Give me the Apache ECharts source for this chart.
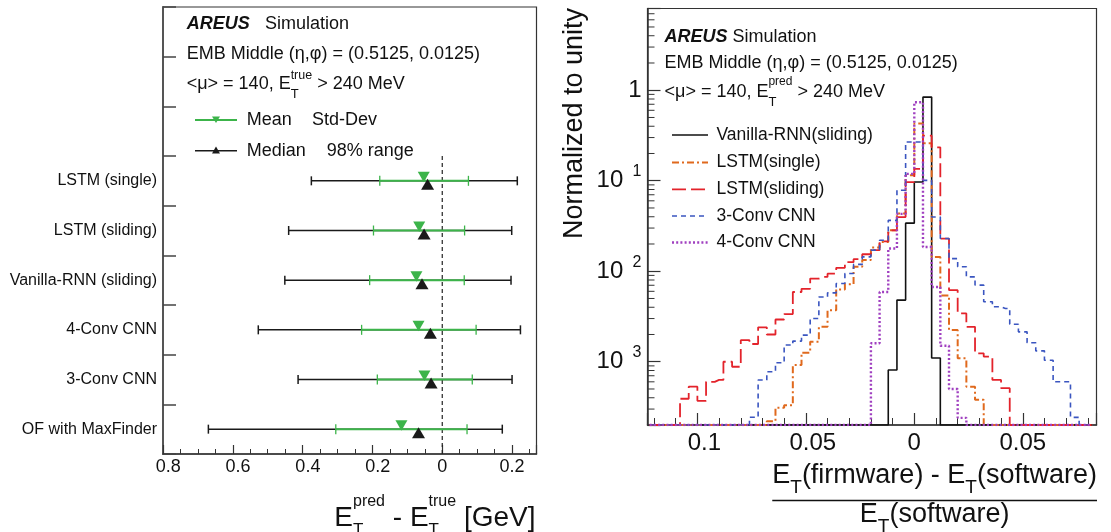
<!DOCTYPE html>
<html><head><meta charset="utf-8">
<script src="https://cdn.jsdelivr.net/npm/echarts@6/dist/echarts.min.js"></script>
<style>html,body{margin:0;padding:0;background:#fff;}#c{width:1111px;height:532px;}</style>
</head><body><div id="c"></div>
<script>
// ---------------- Left panel data: E_T^pred - E_T^true [GeV] ----------------
const models      = ['LSTM (single)', 'LSTM (sliding)', 'Vanilla-RNN (sliding)', '4-Conv CNN', '3-Conv CNN', 'OF with MaxFinder'];
const range98Low  = [-0.375, -0.440, -0.451, -0.527, -0.413, -0.670];
const range98High = [ 0.215,  0.199,  0.197,  0.224,  0.200,  0.172];
const stdLow      = [-0.179, -0.197, -0.208, -0.231, -0.186, -0.305];
const stdHigh     = [ 0.075,  0.064,  0.063,  0.097,  0.086,  0.071];
const meanVals    = [-0.053, -0.066, -0.074, -0.068, -0.051, -0.117];
const medianVals  = [-0.042, -0.052, -0.058, -0.034, -0.032, -0.068];
const leftTickValues = [-0.8, -0.6, -0.4, -0.2, 0, 0.2];
const leftTickLabels = ['0.8', '0.6', '0.4', '0.2', '0', '0.2'];

// ---------------- Right panel data: histograms (normalized to unity) ----------------
const binLowEdges = [-0.124,-0.120,-0.116,-0.112,-0.108,-0.104,-0.100,-0.096,-0.092,-0.088,
  -0.084,-0.080,-0.076,-0.072,-0.068,-0.064,-0.060,-0.056,-0.052,-0.048,
  -0.044,-0.040,-0.036,-0.032,-0.028,-0.024,-0.020,-0.016,-0.012,-0.008,
  -0.004,0.000,0.004,0.008,0.012,0.016,0.020,0.024,0.028,0.032,
  0.036,0.040,0.044,0.048,0.052,0.056,0.060,0.064,0.068,0.072,0.076,0.080];
const binWidth = 0.004;
const hVanillaRNN = [0,0,0,0,0,0,0,0,0,0, 0,0,0,0,0,0,0,0,0,0, 0,0,0,0,0,0,0,0,8.1e-4,4.8e-3,
  3.4e-2,9.7e-2,0.84,1.1e-3,0,0,0,0,0,0, 0,0,0,0,0,0,0,0,0,0,0,0];
const hLSTMsingle = [0,0,0,0,0,0,0,0,0,0, 0,0,0,0,2.2e-4,3.1e-4,3.3e-4,9.2e-4,1.26e-3,1.66e-3,
  2.43e-3,3.7e-3,6.3e-3,7.2e-3,1.12e-2,1.33e-2,1.83e-2,2.1e-2,2.84e-2,4.35e-2,
  0.115,0.428,0.26,1.44e-2,5.4e-3,2.24e-3,1.09e-3,5.3e-4,3.8e-4,0, 0,0,0,0,0,0,0,0,0,0,0,0];
const hLSTMsliding = [0,0,0,0,3.9e-4,5.3e-4,3.7e-4,6.0e-4,6.3e-4,1.0e-3,
  8.8e-4,1.73e-3,1.57e-3,2.4e-3,2.0e-3,2.93e-3,3.36e-3,5.9e-3,6.4e-3,8.3e-3,
  8.65e-3,9.4e-3,1.09e-2,1.26e-2,1.36e-2,1.54e-2,1.71e-2,2.14e-2,2.83e-2,3.97e-2,
  9.66e-2,0.1355,0.315,0.234,2.29e-2,6.18e-3,3.42e-3,2.43e-3,1.24e-3,1.14e-3,
  6.3e-4,5.1e-4,0,0,0,0,0,0,0,0,0,0];
const h3ConvCNN = [0,0,0,0,0,0,0,0,0,0, 0,0,2.44e-4,6.28e-4,7.76e-4,9.75e-4,1.53e-3,1.69e-3,1.97e-3,3.0e-3,
  5.2e-3,5.77e-3,7.32e-3,9.43e-3,1.19e-2,1.44e-2,1.71e-2,2.2e-2,3.65e-2,7.85e-2,
  0.268,0.268,0.101,3.98e-2,2.3e-2,1.38e-2,1.12e-2,8.67e-3,7.03e-3,4.6e-3,
  4.05e-3,3.88e-3,2.6e-3,2.14e-3,1.62e-3,1.32e-3,1.04e-3,6.0e-4,6.0e-4,2.43e-4,0,0];
const h4ConvCNN = [0,0,0,0,0,0,0,0,0,0, 0,0,0,0,0,0,0,0,0,0, 0,0,0,0,0,0,1.6e-3,5.9e-3,1.78e-2,4.3e-2,
  0.119,0.736,1.85e-2,6.7e-3,1.5e-3,5.0e-4,2.4e-4,0,0,0, 0,0,0,0,0,0,0,0,0,0,0,0];
const rightTickValues = [-0.1, -0.05, 0, 0.05];
const rightTickLabels = ['0.1', '0.05', '0', '0.05'];
const yTickValues = [1, 0.1, 0.01, 0.001];
const yTickBase   = ['1', '10', '10', '10'];
const yTickExp    = ['', '1', '2', '3'];

// ---------------- helpers ----------------
const FONT = '"Liberation Sans", Arial, Helvetica, sans-serif';
const mctx = document.createElement('canvas').getContext('2d');
function tw(s, size, weight, style) {
  mctx.font = (style || 'normal') + ' ' + (weight || 'normal') + ' ' + size + 'px "Liberation Sans"';
  return mctx.measureText(s).width;
}
function txt(x, y, s, size, o) {
  o = o || {};
  const al = o.align || 'left', va = o.va || 'middle';
  return { type: 'text', x: x, y: y, rotation: o.rotation || 0, silent: true, z: 10,
    style: { text: s, fontSize: size, fontFamily: FONT, fontWeight: o.weight || 'normal',
      fontStyle: o.style || 'normal', fill: o.fill || '#111',
      align: al, verticalAlign: va, textAlign: al, textVerticalAlign: va } };
}
function seq(parts, x, y, anchor) {
  const widths = parts.map(p => p.stack ? Math.max.apply(null, p.stack.map(q => tw(q.t, q.size)))
                                        : tw(p.t, p.size, p.weight, p.style));
  const total = widths.reduce((a, b) => a + b, 0);
  const x0 = anchor === 'right' ? x - total : anchor === 'center' ? x - total / 2 : x;
  let cx = x0; const els = [];
  parts.forEach((p, i) => {
    if (p.stack) p.stack.forEach(q => els.push(txt(cx, y + q.dy, q.t, q.size)));
    else els.push(txt(cx, y + (p.dy || 0), p.t, p.size, { weight: p.weight, style: p.style }));
    cx += widths[i];
  });
  return { els: els, x0: x0, total: total };
}
function gline(x1, y1, x2, y2, color, w, dash) {
  return { type: 'line', silent: true, z: 10, shape: { x1: x1, y1: y1, x2: x2, y2: y2 },
    style: { stroke: color, lineWidth: w, lineDash: dash || null } };
}
function gpoly(pts, color) {
  return { type: 'polygon', silent: true, z: 11, shape: { points: pts }, style: { fill: color } };
}

const GREEN = '#3cb44a', BLACK = '#1a1a1a', AX = '#333';
const EMPTY_SLOTS = 3;
const catNames = ['_a', '_b', '_c'].concat(models);
const X1_MIN = -0.8, X1_MAX = 0.27;
const X2_MIN = -0.123, X2_MAX = 0.084;
const Y_MIN = 2e-4, Y_MAX = 8;

const hists = [
  { name: 'Vanilla-RNN(sliding)', vals: hVanillaRNN, color: '#111111', w: 1.6, dash: 'solid' },
  { name: 'LSTM(single)', vals: hLSTMsingle, color: '#e0691d', w: 2, dash: [7, 3, 2, 3] },
  { name: 'LSTM(sliding)', vals: hLSTMsliding, color: '#e3232b', w: 1.8, dash: [14, 5] },
  { name: '3-Conv CNN', vals: h3ConvCNN, color: '#3a55c0', w: 1.6, dash: [5, 4] },
  { name: '4-Conv CNN', vals: h4ConvCNN, color: '#a040c0', w: 2.4, dash: [2, 2.2] }
];

const logMinorTicks = [];
for (let e = -4; e <= 0; e++) for (let k = 2; k <= 9; k++) {
  const v = k * Math.pow(10, e);
  if (v > Y_MIN * 1.001 && v < Y_MAX * 0.999) logMinorTicks.push([X2_MIN, v]);
}

// ---------------- graphics: texts, legends, titles ----------------
const graphics = [];
// left panel header
graphics.push(txt(186.7, 24.5, 'AREUS', 18, { weight: 'bold', style: 'italic' }));
graphics.push(txt(265, 24.5, 'Simulation', 18));
graphics.push(txt(186.7, 54, 'EMB Middle (η,φ) = (0.5125, 0.0125)', 18));
graphics.push.apply(graphics, seq([{ t: '<μ> = 140, E', size: 18 },
  { stack: [{ t: 'true', size: 12.5, dy: -8 }, { t: 'T', size: 13, dy: 10 }] },
  { t: ' > 240 MeV', size: 18 }], 186.7, 84, 'left').els);
// left legend
graphics.push(gline(195, 120, 237, 120, GREEN, 2));
graphics.push(gpoly([[212, 116.5], [220, 116.5], [216, 123]], GREEN));
graphics.push(txt(246.7, 120, 'Mean', 18));
graphics.push(txt(312, 120, 'Std-Dev', 18));
graphics.push(gline(195, 150.7, 237, 150.7, BLACK, 1.5));
graphics.push(gpoly([[216, 146.5], [212, 153.5], [220, 153.5]], BLACK));
graphics.push(txt(246.7, 150.7, 'Median', 18));
graphics.push(txt(326.7, 150.7, '98% range', 18));
// left x title
graphics.push.apply(graphics, seq([{ t: 'E', size: 28 },
  { stack: [{ t: 'pred', size: 16, dy: -16 }, { t: 'T', size: 17, dy: 12 }] },
  { t: ' - E', size: 28 },
  { stack: [{ t: 'true', size: 16, dy: -16 }, { t: 'T', size: 17, dy: 12 }] },
  { t: ' [GeV]', size: 28 }], 535.5, 518, 'right').els);

// right panel header
graphics.push(txt(664.5, 36.7, 'AREUS', 18, { weight: 'bold', style: 'italic' }));
graphics.push(txt(732.5, 36.7, 'Simulation', 18));
graphics.push(txt(664.5, 63, 'EMB Middle (η,φ) = (0.5125, 0.0125)', 18));
graphics.push.apply(graphics, seq([{ t: '<μ> = 140, E', size: 18 },
  { stack: [{ t: 'pred', size: 12, dy: -10 }, { t: 'T', size: 13, dy: 10.5 }] },
  { t: ' > 240 MeV', size: 18 }], 664.5, 92, 'left').els);
// right legend
const legY = [135, 162.5, 189.3, 216, 242.5];
hists.forEach((h, i) => {
  graphics.push(gline(672, legY[i], 708, legY[i], h.color, h.w, h.dash === 'solid' ? null : h.dash));
  graphics.push(txt(716.5, legY[i], h.name, 17.5));
});
// right y title
graphics.push(txt(575, 8, 'Normalized to unity', 27, { align: 'right', rotation: Math.PI / 2 }));
// right x title (fraction)
const num = seq([{ t: 'E', size: 27 }, { stack: [{ t: 'T', size: 19, dy: 12 }] },
  { t: '(firmware) - E', size: 27 }, { stack: [{ t: 'T', size: 19, dy: 12 }] },
  { t: '(software)', size: 27 }], 1097, 476, 'right');
graphics.push.apply(graphics, num.els);
graphics.push(gline(num.x0, 500.5, num.x0 + num.total, 500.5, '#111', 1.5));
const den = seq([{ t: 'E', size: 27 }, { stack: [{ t: 'T', size: 19, dy: 12 }] },
  { t: '(software)', size: 27 }], num.x0 + num.total / 2, 515, 'center');
graphics.push.apply(graphics, den.els);

// ---------------- option ----------------
function lookupLabel(v, vals) {
  for (let i = 0; i < vals.length; i++) if (Math.abs(v - vals[i]) < 1e-7) return { i: i, neg: vals[i] < 0 };
  return null;
}

const option = {
  animation: false,
  textStyle: { fontFamily: FONT },
  grid: [
    { left: 163, top: 7, width: 373.5, height: 447, show: true, borderColor: AX, borderWidth: 1.2, backgroundColor: 'transparent', outerBoundsMode: 'none', containLabel: false },
    { left: 647.5, top: 8.5, width: 449, height: 416.5, show: true, borderColor: AX, borderWidth: 1.2, backgroundColor: 'transparent', outerBoundsMode: 'none', containLabel: false }
  ],
  xAxis: [
    { gridIndex: 0, type: 'value', min: X1_MIN, max: X1_MAX, interval: 0.2, position: 'bottom',
      axisLine: { show: true, onZero: false, lineStyle: { color: AX, width: 1.5 } },
      axisTick: { show: true, inside: true, length: 9, lineStyle: { color: AX, width: 1.2 } },
      splitLine: { show: false },
      axisLabel: { show: true, margin: 4, fontSize: 18, color: '#111', fontFamily: FONT,
        rich: { h: { fontSize: 18, color: 'rgba(0,0,0,0)', fontFamily: FONT } },
        formatter: v => { const r = lookupLabel(v, leftTickValues); if (!r) return ''; return (r.neg ? '{h|−}' : '') + leftTickLabels[r.i]; } } },
    { gridIndex: 0, type: 'value', min: X1_MIN, max: X1_MAX, interval: 0.05, position: 'bottom',
      axisLine: { show: false, onZero: false }, axisLabel: { show: false }, splitLine: { show: false },
      axisTick: { show: true, inside: true, length: 5, lineStyle: { color: AX, width: 1 } } },
    { gridIndex: 1, type: 'value', min: X2_MIN, max: X2_MAX, splitNumber: 4, minInterval: 0.05, maxInterval: 0.05, position: 'bottom',
      axisLine: { show: true, onZero: false, lineStyle: { color: AX, width: 1.5 } },
      axisTick: { show: true, inside: true, length: 12, lineStyle: { color: AX, width: 1.2 } },
      splitLine: { show: false },
      axisLabel: { show: true, margin: 6, fontSize: 24, color: '#111', fontFamily: FONT,
        rich: { h: { fontSize: 24, color: 'rgba(0,0,0,0)', fontFamily: FONT } },
        formatter: v => { const r = lookupLabel(v, rightTickValues); if (!r) return ''; return (r.neg ? '{h|−}' : '') + rightTickLabels[r.i]; } } },
    { gridIndex: 1, type: 'value', min: X2_MIN, max: X2_MAX, splitNumber: 20, minInterval: 0.01, maxInterval: 0.01, position: 'bottom',
      axisLine: { show: false, onZero: false }, axisLabel: { show: false }, splitLine: { show: false },
      axisTick: { show: true, inside: true, length: 7, lineStyle: { color: AX, width: 1 } } }
  ],
  yAxis: [
    { gridIndex: 0, type: 'category', data: catNames, inverse: true, boundaryGap: true, position: 'left',
      axisLine: { show: true, onZero: false, lineStyle: { color: '#555', width: 2 } },
      axisTick: { show: true, inside: true, length: 13, alignWithLabel: false, lineStyle: { color: '#444', width: 1.5 } },
      splitLine: { show: false },
      axisLabel: { show: true, interval: 0, margin: 6, fontSize: 16, color: '#111', fontFamily: FONT,
        formatter: v => (v.charAt(0) === '_' ? '' : v) } },
    { gridIndex: 1, type: 'log', logBase: 10, min: Y_MIN, max: Y_MAX, position: 'left',
      axisLine: { show: true, onZero: false, lineStyle: { color: AX, width: 1.5 } },
      axisTick: { show: true, inside: true, length: 13, lineStyle: { color: AX, width: 1.2 } },
      splitLine: { show: false }, minorTick: { show: false },
      axisLabel: { show: true, margin: 6, fontSize: 24, color: '#111', fontFamily: FONT,
        rich: {
          b: { fontSize: 24, lineHeight: 34, color: '#111', fontFamily: FONT },
          h: { fontSize: 16, lineHeight: 16, verticalAlign: 'top', color: 'rgba(0,0,0,0)', fontFamily: FONT },
          s: { fontSize: 16, lineHeight: 16, verticalAlign: 'top', color: '#111', fontFamily: FONT }
        },
        formatter: v => {
          const i = yTickValues.findIndex(t => Math.abs(Math.log10(v) - Math.log10(t)) < 1e-6);
          if (i < 0) return '';
          return yTickExp[i] === '' ? '{b|' + yTickBase[i] + '}' : '{b|' + yTickBase[i] + '}{h|−}{s|' + yTickExp[i] + '}';
        } } }
  ],
  series: [
    // dashed zero line
    { type: 'custom', xAxisIndex: 0, yAxisIndex: 0, silent: true, clip: false, z: 3,
      data: [[0, EMPTY_SLOTS]], encode: { x: 0, y: 1 },
      renderItem: (params, api) => {
        const band = api.size([0, 1])[1];
        const top = api.coord([0, EMPTY_SLOTS])[1] - band / 2;
        const p = api.coord([0, catNames.length - 1]);
        return { type: 'line', shape: { x1: p[0], y1: top, x2: p[0], y2: p[1] + band / 2 },
          style: { stroke: '#222', lineWidth: 1.2, lineDash: [4, 3] } };
      } },
    // error bars
    { type: 'custom', xAxisIndex: 0, yAxisIndex: 0, silent: true, clip: false, z: 5,
      data: models.map((m, i) => [EMPTY_SLOTS + i, range98Low[i], range98High[i], stdLow[i], stdHigh[i], meanVals[i], medianVals[i]]),
      encode: { y: 0, x: [1, 2, 3, 4, 5, 6] },
      renderItem: (params, api) => {
        const c = api.value(0);
        const X = v => api.coord([v, c])[0];
        const y = api.coord([0, c])[1];
        const xl = X(api.value(1)), xh = X(api.value(2)), sl = X(api.value(3)), sh = X(api.value(4));
        const mx = X(api.value(5)), md = X(api.value(6));
        const kids = [];
        kids.push({ type: 'line', shape: { x1: xl, y1: y, x2: xh, y2: y }, style: { stroke: BLACK, lineWidth: 1.5 } });
        kids.push({ type: 'line', shape: { x1: xl, y1: y - 4.5, x2: xl, y2: y + 4.5 }, style: { stroke: BLACK, lineWidth: 1.5 } });
        kids.push({ type: 'line', shape: { x1: xh, y1: y - 4.5, x2: xh, y2: y + 4.5 }, style: { stroke: BLACK, lineWidth: 1.5 } });
        kids.push({ type: 'line', shape: { x1: sl, y1: y, x2: sh, y2: y }, style: { stroke: GREEN, lineWidth: 2 } });
        kids.push({ type: 'line', shape: { x1: sl, y1: y - 5, x2: sl, y2: y + 5 }, style: { stroke: GREEN, lineWidth: 1.3 } });
        kids.push({ type: 'line', shape: { x1: sh, y1: y - 5, x2: sh, y2: y + 5 }, style: { stroke: GREEN, lineWidth: 1.3 } });
        kids.push({ type: 'polygon', shape: { points: [[mx - 6, y - 9], [mx + 6, y - 9], [mx, y + 1.5]] }, style: { fill: GREEN } });
        kids.push({ type: 'polygon', shape: { points: [[md, y - 2], [md - 6.5, y + 9], [md + 6.5, y + 9]] }, style: { fill: BLACK } });
        return { type: 'group', children: kids };
      } },
    // log minor ticks on right panel
    { type: 'custom', xAxisIndex: 2, yAxisIndex: 1, silent: true, clip: false, z: 4,
      data: logMinorTicks, encode: { x: 0, y: 1 },
      renderItem: (params, api) => {
        const p = api.coord([api.value(0), api.value(1)]);
        return { type: 'line', shape: { x1: p[0], y1: p[1], x2: p[0] + 7, y2: p[1] }, style: { stroke: AX, lineWidth: 1 } };
      } }
  ].concat(hists.map(h => ({
    type: 'line', name: h.name, xAxisIndex: 2, yAxisIndex: 1, step: 'middle', showSymbol: false, symbol: 'none',
    silent: true, clip: true, z: 3,
    lineStyle: { color: h.color, width: h.w, type: h.dash },
    data: binLowEdges.map((e, i) => [e + binWidth / 2, Math.max(h.vals[i], Y_MIN)])
  }))),
  graphic: { elements: graphics }
};

const chart = echarts.init(document.getElementById('c'), null, { renderer: 'canvas' });
chart.setOption(option);
</script>
</body></html>
